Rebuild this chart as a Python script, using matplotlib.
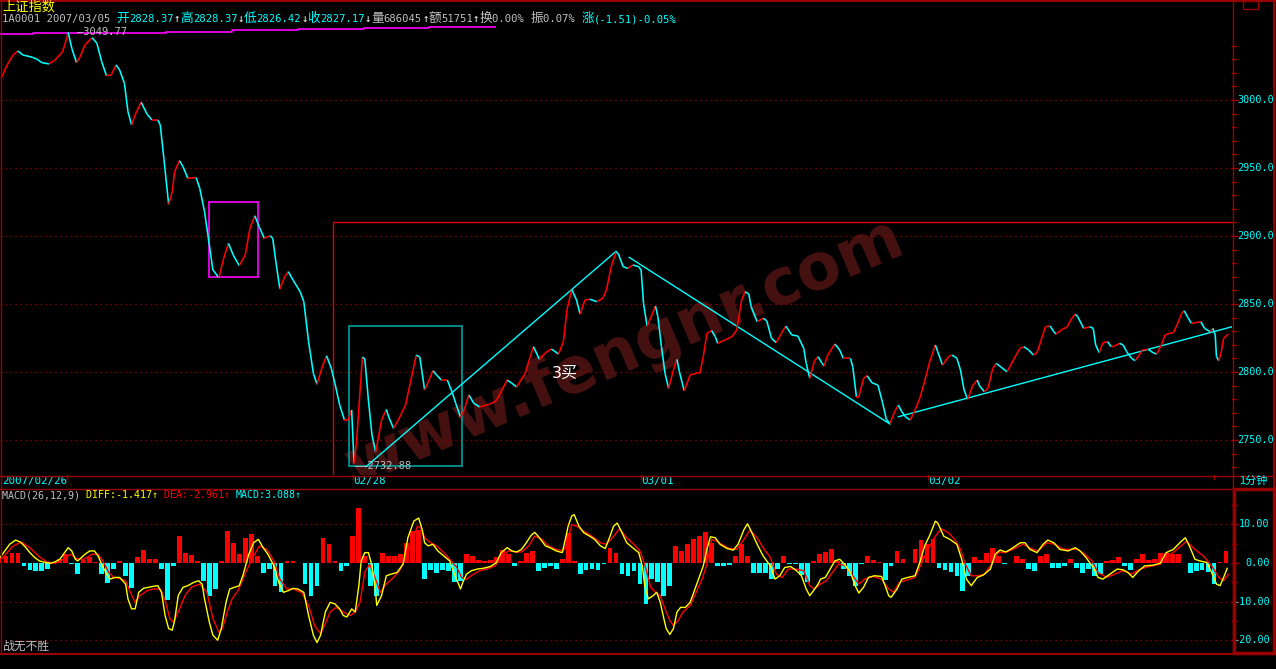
import numpy as np
import matplotlib
matplotlib.use("Agg")
import matplotlib.pyplot as plt
from matplotlib.collections import LineCollection
from matplotlib.lines import Line2D
from matplotlib.patches import Rectangle
from matplotlib.offsetbox import TextArea, HPacker, AnchoredOffsetbox

W, H = 1276, 669
BG = "black"
FRAME = "#990000"
GRID = "#a00000"
CYAN = "#00ffff"
RED = "#ff0000"
YELLOW = "#ffff00"
GRAY = "#c0c0c0"
MONO = ["DejaVu Sans Mono", "Noto Sans CJK SC"]
CJK = ["Noto Sans CJK SC", "DejaVu Sans"]

# ---- 1 minute index price (SSE composite, 2007/02/26 .. 03/05), turning points ----
price_t = [1, 6, 11, 15, 19, 27, 31, 35, 41, 46, 52, 54, 57, 60, 64, 67, 71, 77, 81, 85,
           89, 93, 97, 100, 104, 107, 110, 113, 118, 123, 127, 132, 134, 137, 141, 144, 146, 150, 153, 157,
           164, 167, 171, 175, 178, 183, 187, 191, 195, 200, 205, 209, 213, 217, 221, 226, 228, 231, 234, 238,
           241, 245, 251, 254, 258, 262, 265, 269, 273, 277, 280, 284, 288, 291, 294, 296, 298, 303, 305, 308,
           311, 314, 316, 319, 323, 325, 329, 333, 339, 343, 348, 351, 355, 358, 362, 365, 369, 374, 378, 381,
           385, 387, 392, 396, 401, 410, 415, 424, 428, 432, 439, 446, 451, 457, 461, 467, 471, 474, 478, 482,
           485, 489, 493, 499, 504, 507, 511, 515, 517, 521, 525, 529, 534, 536, 538, 541, 545, 548, 550, 553,
           556, 559, 563, 566, 568, 572, 577, 582, 585, 588, 591, 595, 598, 600, 606, 612, 616, 620, 623, 626,
           628, 633, 638, 641, 645, 649, 654, 657, 662, 667, 672, 674, 677, 681, 684, 687, 689, 692, 698, 702,
           705, 711, 713, 716, 718, 722, 725, 729, 734, 738, 741, 744, 748, 751, 754, 757, 761, 765, 769, 773,
           777, 782, 784, 788, 793, 796, 800, 803, 806, 809, 813, 817, 819, 823, 826, 830, 833, 837, 842, 845,
           849, 853, 856, 860, 864, 867, 870, 874, 878, 881, 883, 888, 892, 896, 899, 901, 906, 911, 914, 916,
           919, 922, 926, 929, 932, 936, 939, 942, 946, 949, 952, 955, 960, 964, 967, 971, 974, 978, 981, 984,
           988, 990, 993, 996, 1000, 1004, 1007, 1012, 1014, 1016, 1017, 1019, 1021, 1023, 1027]
price_v = [3016.0, 3025.7, 3033.1, 3036.0, 3033.1, 3031.4, 3029.9, 3027.4, 3026.5, 3029.4,
           3035.1, 3039.9, 3049.77, 3038.0, 3027.4, 3031.8, 3040.4, 3045.8, 3041.7, 3028.2,
           3017.9, 3018.4, 3025.7, 3022.1, 3012.3, 2991.4, 2981.6, 2989.0, 2998.3, 2989.5,
           2985.3, 2985.3, 2981.6, 2957.1, 2923.3, 2932.6, 2947.3, 2955.4, 2951.0, 2942.4,
           2942.9, 2935.1, 2917.9, 2893.4, 2875.0, 2869.3, 2883.6, 2894.6, 2886.0, 2878.2,
           2886.0, 2905.7, 2914.9, 2906.1, 2898.3, 2900.2, 2898.3, 2878.7, 2861.0, 2870.1,
           2873.8, 2867.6, 2859.0, 2851.7, 2822.3, 2799.0, 2791.0, 2802.7, 2812.0, 2802.7,
           2791.7, 2775.7, 2764.7, 2764.7, 2772.1, 2732.88, 2747.8, 2811.0, 2809.6, 2779.4,
           2753.7, 2741.4, 2750.0, 2764.7, 2772.6, 2766.9, 2758.6, 2764.7, 2775.7, 2791.7,
           2812.5, 2811.0, 2786.8, 2792.6, 2801.0, 2797.8, 2794.1, 2794.1, 2785.3, 2777.0,
           2766.9, 2769.6, 2783.1, 2777.2, 2774.3, 2776.5, 2779.0, 2794.1, 2791.7, 2789.0,
           2799.0, 2818.6, 2809.3, 2814.9, 2816.9, 2813.2, 2822.3, 2845.6, 2860.8, 2852.9,
           2842.6, 2852.9, 2853.5, 2851.7, 2854.2, 2860.3, 2877.4, 2888.5, 2886.8, 2877.4,
           2876.2, 2878.7, 2877.4, 2875.0, 2850.5, 2833.8, 2841.9, 2848.5, 2840.7, 2818.6,
           2799.0, 2788.0, 2801.5, 2809.3, 2800.2, 2786.3, 2797.8, 2799.0, 2799.0, 2811.3,
           2828.5, 2830.4, 2826.0, 2821.1, 2823.5, 2826.0, 2830.9, 2852.9, 2859.0, 2857.4,
           2848.0, 2837.0, 2839.5, 2837.7, 2824.8, 2821.5, 2829.6, 2833.8, 2827.2, 2826.5,
           2817.4, 2806.4, 2795.4, 2808.3, 2811.3, 2806.8, 2804.4, 2812.5, 2820.6, 2816.2,
           2810.1, 2810.1, 2803.5, 2781.8, 2781.8, 2795.4, 2797.3, 2792.1, 2790.4, 2777.0,
           2765.2, 2762.3, 2770.8, 2775.7, 2770.8, 2767.1, 2764.7, 2772.1, 2780.7, 2792.9,
           2806.8, 2819.9, 2814.9, 2805.1, 2811.3, 2812.5, 2810.1, 2801.5, 2786.8, 2779.9,
           2789.7, 2794.1, 2789.7, 2785.5, 2788.0, 2802.7, 2806.4, 2803.5, 2800.2, 2805.1,
           2811.8, 2817.4, 2818.6, 2816.2, 2812.5, 2814.2, 2822.3, 2833.3, 2833.8, 2829.6,
           2827.9, 2831.4, 2832.9, 2839.5, 2842.4, 2840.7, 2832.1, 2833.3, 2832.1, 2819.9,
           2814.2, 2821.5, 2822.3, 2818.6, 2819.1, 2821.1, 2819.9, 2814.9, 2810.1, 2808.3,
           2811.8, 2816.2, 2816.7, 2814.2, 2813.2, 2819.9, 2827.2, 2828.5, 2828.9, 2834.6,
           2843.2, 2845.1, 2840.2, 2835.8, 2836.3, 2837.0, 2832.1, 2829.6, 2832.1, 2827.2,
           2811.3, 2808.3, 2814.9, 2824.8, 2827.9]

high_t, high_v = 57, 3049.77
low_t, low_v = 296, 2732.88

# magenta stepped line along the top
avg_t = [0, 28, 139, 194, 249, 304, 359, 414]
avg_v = [3048.3, 3049.3, 3050.3, 3051.2, 3052.2, 3052.9, 3053.9]

# hand drawn trend lines and boxes
trend_t = [[306, 515], [526, 744], [751, 1030]]
trend_v = [[2730.4, 2888.7], [2884.3, 2761.8], [2767.1, 2833.3]]
box_magenta = (175, 216, 2869.6, 2924.8)
box_teal = (292, 386.5, 2730.9, 2834.0)
box_red = (278.7, 1040, 2700.0, 2910.5)

price_levels = [3000, 2950, 2900, 2850, 2800, 2750]
day_starts = [56, 295, 536, 776, 1015]
date_t = [2, 295, 536, 776]
date_labels = ["2007/02/26", "02/28", "03/01", "03/02"]

# ---- MACD(26,12,9) ----
diff_t = [0, 4, 8, 13, 17, 21, 25, 29, 33, 38, 42, 46, 50, 54, 57, 60, 63, 65, 68, 71,
          75, 79, 82, 85, 89, 92, 96, 100, 105, 107, 110, 113, 116, 120, 124, 128, 132, 135, 138, 141,
          144, 146, 149, 153, 157, 162, 166, 169, 171, 175, 178, 182, 185, 189, 192, 196, 200, 203, 208, 212,
          216, 220, 224, 229, 233, 237, 241, 245, 249, 254, 258, 262, 265, 268, 272, 276, 280, 284, 287, 290,
          294, 297, 300, 302, 305, 308, 311, 314, 315, 319, 323, 327, 332, 337, 341, 346, 350,
          353, 355, 358, 362, 366, 371, 376, 380, 385, 387, 390, 394, 399, 404, 410, 415, 419, 424, 428, 432,
          436, 440, 444, 447, 451, 456, 460, 465, 470, 472, 475, 478, 480, 484, 488, 493, 497, 502, 506, 510,
          513, 516, 520, 524, 529, 534, 537, 539, 542, 546, 549, 552, 555, 557, 560, 563, 566, 569, 573, 577,
          581, 585, 588, 591, 594, 598, 602, 608, 613, 617, 622, 625, 628, 633, 638, 644, 648, 652, 656, 661,
          666, 670, 674, 677, 681, 684,
          686, 690, 694, 698, 702, 706, 711, 715, 718, 722, 726, 731, 737, 740, 743, 745, 750, 754, 759, 765,
          769, 773, 777, 782, 784, 789, 794, 800, 804, 808, 812, 817, 822, 828, 832, 836, 841, 847, 853, 857,
          861, 867, 872, 876, 881, 886, 893, 899, 903, 908, 914, 918, 922, 928, 934, 939, 943, 947, 952, 957,
          964, 970, 975, 981, 987, 991, 995, 999, 1003, 1009, 1013, 1017, 1020, 1023, 1026]
diff_v = [1.37, 3.08, 4.79, 5.90, 5.38, 4.19, 2.65, 1.37, 0.51, 0.09, -0.09, 0.26, 0.94, 2.65, 3.93, 3.08, 0.94, 0.51, 1.37, 2.22,
          3.08, 3.08, 1.79, -0.34, -2.91, -4.19, -3.76, -3.76, -5.47, -9.32, -11.88, -11.88, -7.61, -6.58, -6.32, -6.07, -5.90, -7.61, -13.59, -17.0,
          -17.4, -14.9, -8.46, -6.32, -5.90, -5.04, -4.62, -5.47, -9.32, -15.3, -18.7, -20.0, -17.0, -10.2, -6.75, -6.32, -5.90, -3.33, 2.22, 5.21,
          6.07, 3.93, 2.22, -0.77, -5.04, -7.61, -7.18, -6.58, -6.75, -7.61, -13.6, -18.7, -20.6, -18.7, -12.7, -10.2, -10.6, -11.9, -13.6, -14.0,
          -11.9, -12.7, -5.90, 0.51, 2.65, 2.65, -0.77, -7.61, -11.0, -8.46, -3.33, -2.91, -2.48, -0.34, 6.50, 10.8, 11.6,
          8.6, 5.2, 4.4, 4.8, 3.1, 1.8, 0.5, -2.9, -6.75, -5.0, -2.9, -2.05, -1.6, -1.4, -0.94, 0.09, 2.65, 3.93, 3.08, 2.82,
          3.5, 5.2, 7.1, 7.9, 6.5, 4.4, 3.9, 3.1, 2.65, 5.2, 9.5, 12.1, 12.5, 9.5, 7.8, 6.9, 6.1, 4.4, 3.7, 6.9,
          9.5, 10.3, 7.8, 5.2, 3.9, 2.65, -0.8, -5.9, -9.3, -8.5, -7.6, -10.2, -14.4, -17.0, -18.5, -17.0, -12.7, -11.5, -11.5, -10.2,
          -6.75, -3.3, -0.77, 3.5, 6.75, 6.5, 4.8, 3.7, 3.3, 4.8, 8.6, 10.1, 8.2, 4.8, 1.8, -0.77, -4.2, -3.3, -1.2, -0.94,
          -2.05, -3.3, -6.75, -8.5, -6.75, -5.47,
          -4.2, -3.76, -1.6, 0.51, 0.94, -0.34, -2.48, -5.9, -7.8, -6.3, -3.76, -3.33, -3.5, -5.9, -8.5, -8.9, -6.75, -4.2, -3.76, -3.33,
          0.09, 4.36, 6.9, 10.8, 10.3, 6.9, 6.1, 4.8, 0.94, -4.2, -5.9, -3.76, -3.16, -1.6, 2.22, 3.33, 2.82, 3.93, 5.2, 5.2,
          3.5, 2.65, 4.8, 5.9, 5.2, 3.5, 3.08, 3.93, 3.08, 1.37, -1.2, -3.76, -4.2, -2.9, -1.6, -1.8, -2.48, -3.76, -2.05, -0.77,
          -0.6, -0.09, 2.65, 3.5, 5.4, 6.5, 3.93, 0.94, 0.51, 0.09, -2.48, -5.47, -5.9, -3.76, -1.417]

dea_t = [0, 6, 11, 18, 25, 32, 39, 46, 53, 59, 64, 70, 77, 82, 86, 91, 95, 100, 105, 109,
         113, 117, 123, 128, 134, 138, 142, 145, 149, 155, 160, 167, 173, 178, 183, 186, 190, 194, 199, 206,
         212, 217, 223, 229, 234, 240, 245, 252, 258, 263, 268, 272, 276, 281, 287, 293, 297, 301, 305, 309,
         314, 318, 323, 329, 334, 340, 346,
         349, 352, 355, 360, 365, 371, 376, 382, 386, 390, 396, 401, 407, 414, 419, 425, 431, 436, 442, 447,
         453, 458, 465, 471, 474, 478, 482, 488, 495, 502, 507, 513, 518, 524, 530, 535, 539, 544, 548, 552,
         556, 560, 563, 567, 571, 577, 582, 587, 591, 595, 599, 605, 610, 616, 622, 627, 633, 638, 644, 649,
         654, 659, 666, 672, 677, 681,
         686, 691, 697, 701, 706, 712, 718, 723, 730, 737, 743, 747, 752, 759, 765, 770, 776, 782, 787, 793,
         798, 803, 807, 812, 818, 823, 829, 835, 840, 847, 855, 862, 868, 875, 882, 889, 896, 901, 907, 913,
         918, 925, 932, 939, 946, 953, 961, 970, 977, 984, 992, 999, 1006, 1013, 1019, 1023, 1027]
dea_v = [0.51, 2.65, 4.36, 5.38, 3.93, 1.79, 0.26, -0.09, 0.94, 2.22, 1.11, 0.94, 2.22, 2.22, 0.51, -2.48, -3.76, -4.02, -4.62, -7.61,
         -10.2, -8.46, -7.18, -6.75, -6.75, -9.74, -14.4, -15.3, -12.7, -8.29, -6.32, -5.47, -7.61, -14.4, -17.9, -17.0, -12.7, -9.32, -7.18, -2.05,
         1.79, 4.36, 3.50, 0.51, -4.19, -6.75, -6.75, -7.61, -11.0, -16.2, -18.3, -15.7, -12.7, -11.5, -12.7, -13.6, -12.7, -10.2, -2.48, -0.34,
         -4.19, -7.61, -5.47, -3.76, -2.05, 1.79, 6.92,
         9.5, 9.0, 6.5, 5.2, 4.4, 2.65, 0.94, -1.2, -3.8, -4.2, -2.9, -2.05, -1.6, -0.77, 1.37, 3.08, 2.82, 2.82, 4.36, 6.9,
         6.1, 4.5, 3.5, 3.08, 5.2, 9.9, 9.5, 8.2, 6.9, 5.2, 4.8, 6.9, 8.8, 6.5, 4.8, 3.08, -0.34, -6.3, -7.6, -8.5,
         -11.9, -14.9, -16.2, -14.9, -12.7, -11.0, -7.6, -4.2, -0.34, 6.1, 5.6, 4.5, 3.7, 3.5, 6.1, 8.5, 6.5, 3.9, 1.37, -2.9,
         -3.8, -1.6, -1.6, -2.05, -5.9, -6.75,
         -5.47, -4.6, -2.05, -0.34, -0.6, -2.9, -5.47, -4.2, -3.5, -4.2, -6.75, -7.6, -5.04, -4.36, -3.76, -0.34, 3.5, 6.9, 8.8, 7.8,
         6.1, 3.5, -0.34, -3.33, -3.33, -2.9, -0.34, 2.82, 2.65, 3.5, 4.8, 3.7, 3.08, 5.2, 4.8, 3.5, 3.5, 3.5, 2.22, 0.51,
         -2.48, -3.76, -2.9, -2.05, -2.9, -1.6, -0.94, -0.34, 1.8, 3.5, 5.6, 3.5, 1.8, -0.77, -3.76, -4.6, -2.961]

# MACD bars, one reading every 5 minutes
hist_step = 5
macd_hist = [1.4, 1.8, 2.6, 2.5, -0.8, -1.8, -2.1, -2.1, -1.5, 0.3, 1.1, 2.2, -0.3, -2.9, 0.8, 1.6, 0.3, -2.9, -5.3, -1.6,
             0.5, -3.5, -6.6, 1.4, 3.3, 1.1, 0.9, -1.6, -9.7, -0.8, 6.9, 2.6, 2.0, 0.5, -4.6, -8.5, -6.8, 0.5, 8.2, 5.2,
             2.2, 6.5, 7.4, 1.8, -2.5, -1.6, -5.9, -7.6, 0.5, 0.5, 0.0, -5.5, -8.5, -5.9, 6.5, 4.8, 0.5, -2.2, -0.9, 6.9,
             14.2, 1.8, -5.9, -8.5, 2.6, 1.8, 1.8, 2.2, 5.2, 8.2,
             8.5, -4.2, -1.8, -2.5, -1.8, -2.1, -5.0, -4.6, 2.2, 1.8, 0.7, 0.5, 0.7, 1.4, 3.3, 2.2, -0.9, 0.5, 2.6, 3.1,
             -2.1, -1.2, -0.8, -1.5, 0.9, 7.8, 0.5, -2.9, -1.9, -1.6, -1.8, -0.3, 3.9, 2.6, -2.9, -3.3, -2.1, -5.5, -10.6, -4.2,
             -5.0, -8.6, -5.9, 4.4, 3.1, 4.8, 6.1, 6.9, 7.9, 5.2, -0.9, -0.8, -0.6, 1.8, 4.8, 1.8, -2.6, -2.5, -2.5, -4.2,
             -1.6, 1.8, -0.3, -0.3, -3.2, -5.0, 0.5, 2.2, 2.8,
             3.5, 0.5, -1.5, -3.3, -5.9, -0.3, 1.8, 0.8, 0.3, -4.4, -0.8, 3.1, 0.9, 0.0, 3.5, 5.9, 4.8, 6.2, -1.2, -1.9,
             -2.3, -3.5, -7.2, -3.3, 1.4, 0.7, 2.6, 3.9, 1.8, -0.2, 0.0, 1.8, 0.9, -1.6, -2.1, 1.8, 2.2, -1.2, -1.3, -0.9,
             0.9, -1.2, -2.5, -1.6, -3.5, -2.9, 0.5, 0.7, 1.4, -0.8, -1.8, 0.9, 2.2, 0.7, 1.1, 2.5, 2.6, 2.2, 2.4, 0.0,
             -2.6, -2.1, -1.8, -2.3, -5.5, 0.1, 3.088]
macd_levels = [10, 0, -10, -20]
macd_labels = ["10.00", "0.00", "-10.00", "-20.00"]


def fx(px):
    return px / W


def fy(py):
    return 1 - py / H


fig = plt.figure(figsize=(W / 100, H / 100), dpi=100, facecolor=BG)


def fline(xs, ys, color=FRAME, lw=1.0):
    fig.add_artist(Line2D([fx(x) for x in xs], [fy(y) for y in ys],
                          transform=fig.transFigure, color=color, lw=lw))


def packed(pieces, size):
    kids = []
    for s, c in pieces:
        # chinese characters sit a little larger, like the bitmap font of the original
        sz = size * 1.2 if any(ord(ch) > 0x3000 for ch in s[:1]) else size
        if sz != size:
            kids.append(TextArea(s[0], textprops=dict(color=c, family=MONO, size=sz)))
            s = s[1:]
        kids.append(TextArea(s, textprops=dict(color=c, family=MONO, size=size)))
    return HPacker(children=kids, align="baseline", pad=0, sep=0)


# ---------------- price panel ----------------
ax = fig.add_axes([0, fy(475), 1232 / W, 450 / H])
ax.set_xlim(0, 1030)
ax.set_ylim(2724.3, 3055.1)
ax.set_axis_off()

for lvl in price_levels:
    ax.axhline(lvl, color=GRID, lw=0.9, ls=(0, (1, 3)), zorder=1)

ax.text(522, 2815, "www.fengnr.com", rotation=23, rotation_mode="anchor",
        ha="center", va="center", fontsize=46, fontweight="bold",
        family="DejaVu Sans", color="#461111", zorder=0.5, clip_on=True)

x0, x1, y0, y1 = box_red
ax.add_patch(Rectangle((x0, y0), x1 - x0, y1 - y0, fill=False, ec="#e00000", lw=1, zorder=2))
x0, x1, y0, y1 = box_magenta
ax.add_patch(Rectangle((x0, y0), x1 - x0, y1 - y0, fill=False, ec="#ff00ff", lw=1.2, zorder=2))
x0, x1, y0, y1 = box_teal
ax.add_patch(Rectangle((x0, y0), x1 - x0, y1 - y0, fill=False, ec="#00a0a0", lw=1.2, zorder=2))

for t, v in zip(trend_t, trend_v):
    ax.plot(t, v, color=CYAN, lw=1, zorder=3)

ax.step(avg_t, avg_v + [avg_v[-1]], where="post", color="#ff00ff", lw=1.2, zorder=3)

pts = np.column_stack([price_t, price_v])
segs = np.stack([pts[:-1], pts[1:]], axis=1)
cols = [RED if d >= 0 else CYAN for d in np.diff(price_v)]
ax.add_collection(LineCollection(segs, colors=cols, lw=1.15, zorder=4))

ax.text(64, high_v, "—3049.77", color=GRAY, fontsize=7.5, family=MONO, va="center", zorder=5)
ax.text(low_t + 1, low_v - 2, "——2732.88", color=GRAY, fontsize=7.5, family=MONO, va="center", zorder=5)
ax.text(472, 2799.3, "3买", color="white", fontsize=11.5, family=["DejaVu Sans", "Noto Sans CJK SC"],
        ha="center", va="center", zorder=5)

ytr = ax.get_yaxis_transform()
for lvl in price_levels:
    ax.text(1.0043, lvl, f"{lvl:.1f}", transform=ytr, color=CYAN, fontsize=7.3, family=MONO,
            ha="left", va="center")
    ax.plot([1.0, 1.0049], [lvl, lvl], transform=ytr, color=FRAME, lw=1, clip_on=False)
for lvl in range(2730, 3051, 10):
    if lvl % 50:
        ax.plot([1.0, 1.003], [lvl, lvl], transform=ytr, color=FRAME, lw=1, clip_on=False)

xtr = ax.get_xaxis_transform()
for t in day_starts:
    ax.plot([t, t], [0, -0.009], transform=xtr, color=FRAME, lw=1, clip_on=False)
for t, s in zip(date_t, date_labels):
    ax.text(t, -0.0135, s, transform=xtr, color=CYAN, fontsize=7.8, family=MONO, ha="left", va="center")

# ---------------- MACD panel ----------------
mx = fig.add_axes([0, fy(653), 1232 / W, 164 / H])
mx.set_xlim(0, 1030)
mx.set_ylim(-23.3, 19.1)
mx.set_axis_off()

for lvl in [10, -10, -20]:
    mx.axhline(lvl, color=GRID, lw=0.9, ls=(0, (1, 3)), zorder=1)

hist = np.array(macd_hist)
hx = np.arange(len(hist)) * hist_step
mx.bar(hx, hist, width=hist_step * 0.8, color=np.where(hist >= 0, RED, CYAN), lw=0, zorder=2)
mx.plot(dea_t, dea_v, color=RED, lw=1, zorder=3)
mx.plot(diff_t, diff_v, color=YELLOW, lw=1, zorder=4)

mtr = mx.get_yaxis_transform()
for lvl, s in zip(macd_levels, macd_labels):
    mx.text(1.0305, lvl, s, transform=mtr, color=CYAN, fontsize=7.3, family=MONO, ha="right", va="center")
    mx.plot([1.0, 1.0049], [lvl, lvl], transform=mtr, color=FRAME, lw=1, clip_on=False)
for lvl in [15, 5, -5, -15]:
    mx.plot([1.0, 1.003], [lvl, lvl], transform=mtr, color=FRAME, lw=1, clip_on=False)

# ---------------- frame ----------------
fline([0, W], [0.5, 0.5], lw=1.5)
fline([0.7, 0.7], [0, 653])
fline([1232.5, 1232.5], [0, 653])
fline([1273.5, 1273.5], [0, 653], lw=1.5)
fline([0, 1274], [475.5, 475.5])
fline([0, 1274], [488.5, 488.5])
fline([0, 1274], [653.5, 653.5], lw=1.5)
fig.add_artist(Rectangle((fx(1233.5), fy(653)), 40 / W, 164 / H, transform=fig.transFigure,
                         fill=False, ec=FRAME, lw=2.5))
fig.add_artist(Rectangle((fx(1243), fy(9)), 15 / W, 8 / H, transform=fig.transFigure,
                         fill=False, ec=FRAME, lw=1))

# ---------------- texts ----------------
fig.text(fx(2), fy(7), "上证指数", color=YELLOW, fontsize=9.5, family=CJK, va="center")
head = [("1A0001 2007/03/05 ", GRAY), ("开2828.37", CYAN), ("↑", "white"),
        ("高2828.37", CYAN), ("↓", "white"), ("低2826.42", CYAN), ("↓", "white"),
        ("收2827.17", CYAN), ("↓", "white"), ("量686045", GRAY), ("↑", "white"),
        ("额51751", GRAY), ("↑", "white"), ("换0.00% ", GRAY), ("振0.07% ", GRAY),
        ("涨(-1.51)-0.05%", CYAN)]
fig.add_artist(AnchoredOffsetbox(loc="upper left", child=packed(head, 7.6), pad=0, borderpad=0,
                                 frameon=False, bbox_to_anchor=(fx(2), fy(12)),
                                 bbox_transform=fig.transFigure))
mhead = [("MACD(26,12,9) ", GRAY), ("DIFF:-1.417↑ ", YELLOW), ("DEA:-2.961↑ ", RED),
         ("MACD:3.088↑", CYAN)]
fig.add_artist(AnchoredOffsetbox(loc="upper left", child=packed(mhead, 7.2), pad=0, borderpad=0,
                                 frameon=False, bbox_to_anchor=(fx(2), fy(490)),
                                 bbox_transform=fig.transFigure))
fig.text(fx(1239), fy(481), "1分钟", color=CYAN, fontsize=8, family=CJK, va="center")
fig.text(fx(2), fy(646), "战无不胜", color=GRAY, fontsize=8.5, family=CJK, va="center")

fig.savefig("out.png", dpi=100, facecolor=BG)
